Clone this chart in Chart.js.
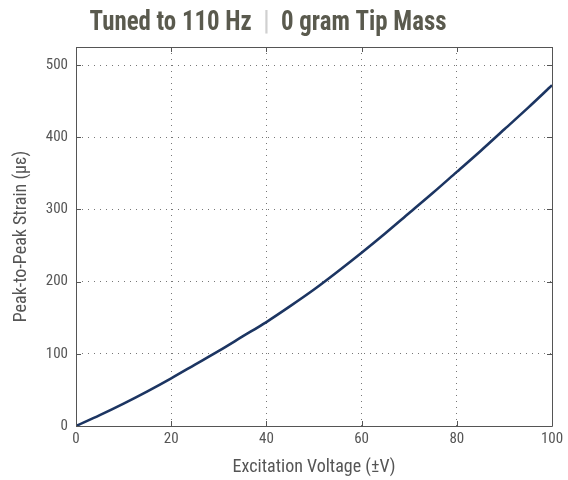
<!DOCTYPE html>
<html>
<head>
<meta charset="utf-8">
<script src="https://cdn.jsdelivr.net/npm/chart.js@4.4.0/dist/chart.umd.min.js"></script>
<style>
  html, body { margin: 0; padding: 0; background: #fff; overflow: hidden; }
  canvas { display: block; }
</style>
</head>
<body>
<canvas id="grafico" width="568" height="480"></canvas>
<script>
// datos
const voltaje = [0, 5, 10, 15, 20, 25, 30, 35, 40, 45, 50, 55, 60, 65, 70, 75, 80, 85, 90, 95, 100];
const deformacion = [0, 15, 31, 48, 66, 85, 104, 124, 144, 166, 189, 214, 240, 267, 295, 323, 352, 381, 411, 441, 472];
const ticksX = [0, 20, 40, 60, 80, 100];
const ticksY = [0, 100, 200, 300, 400, 500];

const fuente = "'Liberation Sans Narrow', 'Arial Narrow', 'Roboto Condensed', sans-serif";

// titulo con separador gris, marco y marcas hacia dentro (estilo Matlab)
const marcoPlugin = {
    id: 'marco',
    afterDraw(chart) {
        const ctx = chart.ctx;
        const a = chart.chartArea;
        const sx = chart.scales.x, sy = chart.scales.y;
        ctx.save();
        ctx.strokeStyle = '#555';
        ctx.lineWidth = 1;
        ctx.beginPath();
        ctx.rect(Math.round(a.left) + 0.5, Math.round(a.top) + 0.5, Math.round(a.right - a.left), Math.round(a.bottom - a.top));
        ctx.stroke();
        ctx.beginPath();
        ticksX.forEach(v => {
            const px = Math.round(sx.getPixelForValue(v)) + 0.5;
            ctx.moveTo(px, a.bottom); ctx.lineTo(px, a.bottom - 5);
            ctx.moveTo(px, a.top); ctx.lineTo(px, a.top + 5);
        });
        ticksY.forEach(v => {
            const py = Math.round(sy.getPixelForValue(v)) + 0.5;
            ctx.moveTo(a.left, py); ctx.lineTo(a.left + 5, py);
            ctx.moveTo(a.right, py); ctx.lineTo(a.right - 5, py);
        });
        ctx.stroke();

        // titulo (fuente alta y estrecha)
        const partes = [
            { t: 'Tuned to 110 Hz', c: '#5a5a4e' },
            { t: '  |  ', c: '#d0d0d0' },
            { t: '0 gram Tip Mass', c: '#5a5a4e' }
        ];
        ctx.font = 'bold 28px ' + fuente;
        ctx.textBaseline = 'alphabetic';
        ctx.textAlign = 'left';
        const total = partes.reduce((s, p) => s + ctx.measureText(p.t).width, 0);
        const escala = 357 / total;
        ctx.translate(268 - 357 / 2, 30);
        ctx.scale(escala, 1);
        let x = 0;
        partes.forEach(p => {
            ctx.fillStyle = p.c;
            ctx.fillText(p.t, x, 0);
            x += ctx.measureText(p.t).width;
        });
        ctx.restore();
    }
};

const ctx = document.getElementById('grafico').getContext('2d');
const grafico = new Chart(ctx, {
    type: 'line',
    data: {
        datasets: [{
            data: voltaje.map((v, i) => ({ x: v, y: deformacion[i] })),
            borderColor: '#1c3562',
            borderWidth: 2.6,
            pointRadius: 0,
            cubicInterpolationMode: 'monotone',
            fill: false
        }]
    },
    options: {
        responsive: false,
        animation: false,
        devicePixelRatio: 1,
        layout: { padding: { left: 0, right: 16, top: 47, bottom: 0 } },
        plugins: {
            legend: { display: false },
            tooltip: { enabled: false }
        },
        scales: {
            x: {
                type: 'linear',
                min: 0,
                max: 100,
                afterFit(scale) { scale.height = 54; },
                afterBuildTicks(scale) { scale.ticks = ticksX.map(v => ({ value: v })); },
                border: { display: false, dash: [1, 5] },
                grid: { color: '#777', drawTicks: false, lineWidth: 1 },
                ticks: {
                    padding: 4,
                    color: '#555',
                    font: { family: fuente, size: 15 },
                    maxRotation: 0
                },
                title: {
                    display: true,
                    text: 'Excitation Voltage (\u00B1V)',
                    color: '#555',
                    font: { family: fuente, size: 18 },
                    padding: { bottom: 2 }
                }
            },
            y: {
                type: 'linear',
                min: 0,
                max: 525,
                afterFit(scale) { scale.width = 76; },
                afterBuildTicks(scale) { scale.ticks = ticksY.map(v => ({ value: v })); },
                border: { display: false, dash: [1, 5] },
                grid: { color: '#777', drawTicks: false, lineWidth: 1 },
                ticks: {
                    padding: 8,
                    color: '#555',
                    font: { family: fuente, size: 15 }
                },
                title: {
                    display: true,
                    text: 'Peak-to-Peak Strain (\u03BC\u03B5)',
                    color: '#555',
                    font: { family: fuente, size: 18 },
                    padding: { top: 11 }
                }
            }
        }
    },
    plugins: [marcoPlugin]
});
</script>
</body>
</html>
